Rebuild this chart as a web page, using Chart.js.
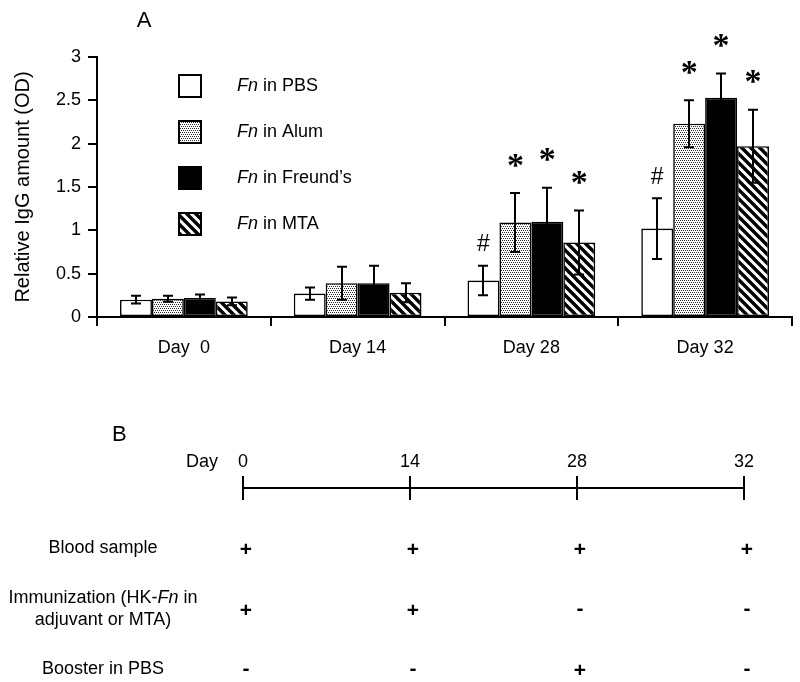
<!DOCTYPE html>
<html><head><meta charset="utf-8">
<script src="https://cdn.jsdelivr.net/npm/chart.js@4/dist/chart.umd.min.js"></script>
<style>
html,body{margin:0;padding:0;background:#fff;}
#wrap{position:relative;width:800px;height:682px;overflow:hidden;background:#fff;}
#a{position:absolute;left:0;top:0;width:800px;height:370px;}
#b{position:absolute;left:0;top:400px;width:800px;height:282px;}
</style></head><body>
<div id="wrap"><canvas id="a" width="800" height="370"></canvas><canvas id="b" width="800" height="282"></canvas></div>
<script>
// ---------- DATA ----------
const categories = ['Day  0', 'Day 14', 'Day 28', 'Day 32'];
const seriesLabels = ['*Fn* in PBS', '*Fn* in Alum', '*Fn* in Freund\u2019s', '*Fn* in MTA'];
const pbsValues    = [0.20, 0.27, 0.42, 1.02];
const pbsErrors    = [0.045, 0.07, 0.17, 0.35];
const alumValues   = [0.21, 0.39, 1.09, 2.23];
const alumErrors   = [0.035, 0.19, 0.34, 0.27];
const freundValues = [0.22, 0.39, 1.10, 2.53];
const freundErrors = [0.04, 0.20, 0.39, 0.28];
const mtaValues    = [0.18, 0.28, 0.86, 1.97];
const mtaErrors    = [0.045, 0.11, 0.37, 0.42];
const pbsMarks     = ['', '', '#', '#'];
const alumMarks    = ['', '', '*', '*'];
const freundMarks  = ['', '', '*', '*'];
const mtaMarks     = ['', '', '*', '*'];
const yTicksMax = 3, yTickStep = 0.5;

const timelineDays = ['0', '14', '28', '32'];
const rowLabels = [['Blood sample'], ['Immunization (HK-*Fn* in', 'adjuvant or MTA)'], ['Booster in PBS']];
const bloodSigns   = ['+', '+', '+', '+'];
const immunSigns   = ['+', '+', '-', '-'];
const boosterSigns = ['-', '-', '+', '-'];

// ---------- STYLE ----------
const FONT = '"Liberation Sans", Arial, Helvetica, sans-serif';
const SERIF = '"Liberation Serif", "Times New Roman", serif';
Chart.defaults.color = '#000';
Chart.defaults.font.family = FONT;

function stipplePattern() {
  const c = document.createElement('canvas'); c.width = 4; c.height = 4;
  const x = c.getContext('2d');
  x.fillStyle = '#fff'; x.fillRect(0, 0, 4, 4);
  x.fillStyle = '#2a2a2a';
  [[0,0],[2,0],[1,2],[3,2]].forEach(([a,b]) => x.fillRect(a, b, 1, 1));
  return x.createPattern(c, 'repeat');
}
function stripePattern() {
  const s = 9;
  const c = document.createElement('canvas'); c.width = s; c.height = s;
  const x = c.getContext('2d');
  x.fillStyle = '#fff'; x.fillRect(0, 0, s, s);
  x.strokeStyle = '#000'; x.lineWidth = 3.4;
  for (const k of [-s, 0, s]) { x.beginPath(); x.moveTo(-3, -3 + k); x.lineTo(s + 3, s + 3 + k); x.stroke(); }
  return x.createPattern(c, 'repeat');
}
const fills = ['#ffffff', stipplePattern(), '#000000', stripePattern()];
const valueSets = [pbsValues, alumValues, freundValues, mtaValues];
const errorSets = [pbsErrors, alumErrors, freundErrors, mtaErrors];
const markSets  = [pbsMarks, alumMarks, freundMarks, mtaMarks];

function parseRich(s) {
  const parts = []; s.split('*').forEach((t, i) => { if (t) parts.push({ t, it: i % 2 === 1 }); }); return parts;
}
function drawRich(ctx, s, x, y, size, align) {
  const parts = parseRich(s);
  let total = 0;
  parts.forEach(p => { ctx.font = (p.it ? 'italic ' : '') + size + 'px ' + FONT; p.w = ctx.measureText(p.t).width; total += p.w; });
  let cx = align === 'center' ? x - total / 2 : x;
  ctx.textAlign = 'left'; ctx.textBaseline = 'middle';
  parts.forEach(p => { ctx.font = (p.it ? 'italic ' : '') + size + 'px ' + FONT; ctx.fillText(p.t, cx, y); cx += p.w; });
}
function drawCentered(ctx, txt, x, cy) {
  ctx.textAlign = 'center'; ctx.textBaseline = 'alphabetic';
  const m = ctx.measureText(txt);
  const a = m.actualBoundingBoxAscent, d = m.actualBoundingBoxDescent;
  ctx.fillText(txt, x, cy + (a - d) / 2);
}

const errorBarPlugin = {
  id: 'errorBars',
  afterDatasetsDraw(chart) {
    const ctx = chart.ctx, ys = chart.scales.y;
    ctx.save();
    ctx.strokeStyle = '#000'; ctx.lineWidth = 2; ctx.fillStyle = '#000';
    chart.data.datasets.forEach((ds, i) => {
      const meta = chart.getDatasetMeta(i);
      meta.data.forEach((bar, j) => {
        const v = valueSets[i][j], e = errorSets[i][j];
        const yt = ys.getPixelForValue(v + e), yb = ys.getPixelForValue(v - e);
        const x = Math.round(bar.x);
        ctx.beginPath();
        ctx.moveTo(x, yt); ctx.lineTo(x, yb);
        ctx.moveTo(x - 5, yt); ctx.lineTo(x + 5, yt);
        ctx.moveTo(x - 5, yb); ctx.lineTo(x + 5, yb);
        ctx.stroke();
        const mk = markSets[i][j];
        if (mk === '*') { ctx.font = 'bold 34px ' + SERIF; drawCentered(ctx, '*', bar.x, yt - 33); }
        else if (mk === '#') { ctx.font = '23px ' + FONT; drawCentered(ctx, '#', bar.x, yt - 23); }
      });
    });
    ctx.restore();
  },
  afterDraw(chart) {
    const ctx = chart.ctx, ca = chart.chartArea;
    ctx.save();
    ctx.fillStyle = '#000';
    ctx.font = '22px ' + FONT;
    drawCentered(ctx, 'A', ca.left + 47, 19);
    const x0 = ca.left + 81, y0 = ca.top + 17;
    chart.data.datasets.forEach((ds, i) => {
      const y = y0 + i * 46;
      ctx.fillStyle = ds.backgroundColor; ctx.fillRect(x0, y, 24, 24);
      ctx.strokeStyle = '#000'; ctx.lineWidth = 2; ctx.strokeRect(x0 + 1, y + 1, 22, 22);
      ctx.fillStyle = '#000';
      drawRich(ctx, seriesLabels[i], x0 + 59, y + 12, 18, 'left');
    });
    ctx.restore();
  }
};

new Chart(document.getElementById('a'), {
  type: 'bar',
  data: {
    labels: categories,
    datasets: valueSets.map((vals, i) => ({
      label: seriesLabels[i].replace(/\*/g, ''),
      data: vals,
      backgroundColor: fills[i],
      borderColor: '#000',
      borderWidth: 1.6,
      borderSkipped: false,
      categoryPercentage: 0.735,
      barPercentage: 1.0
    }))
  },
  options: {
    responsive: false, animation: false,
    layout: { padding: { top: 57, right: 8, left: 0, bottom: 0 } },
    plugins: { legend: { display: false }, tooltip: { enabled: false } },
    scales: {
      x: {
        grid: { display: true, drawOnChartArea: false, drawTicks: true, tickLength: 9, offset: true, color: '#000', lineWidth: 2 },
        border: { display: true, color: '#000', width: 2 },
        ticks: { font: { size: 18, family: FONT }, color: '#000', padding: 11, maxRotation: 0, autoSkip: false },
        afterFit(s) { s.height = 53; }
      },
      y: {
        min: 0, max: yTicksMax,
        ticks: { stepSize: yTickStep, font: { size: 18, family: FONT }, color: '#000', padding: 7,
                 callback: (v) => String(Math.round(v * 10) / 10) },
        grid: { drawOnChartArea: false, drawTicks: true, tickLength: 9, color: '#000', lineWidth: 2 },
        border: { display: true, color: '#000', width: 2 },
        title: { display: true, text: 'Relative IgG amount (OD)', font: { size: 20, family: FONT }, color: '#000', padding: { top: 11, bottom: 0 } },
        afterFit(s) { s.width = 97; }
      }
    }
  },
  plugins: [errorBarPlugin]
});

// ---------- PANEL B ----------
const timelinePlugin = {
  id: 'timeline',
  afterDraw(chart) {
    const ctx = chart.ctx, xs = chart.scales.x, ca = chart.chartArea;
    const yLine = ca.top;
    ctx.save();
    ctx.fillStyle = '#000'; ctx.strokeStyle = '#000';
    ctx.font = '22px ' + FONT;
    ctx.textAlign = 'left'; ctx.textBaseline = 'alphabetic';
    { const m = ctx.measureText('B'); ctx.fillText('B', 112, yLine - 55 + m.actualBoundingBoxAscent / 2); }
    ctx.font = '18px ' + FONT; ctx.textAlign = 'right'; ctx.textBaseline = 'middle';
    ctx.fillText('Day', 218, yLine - 26);
    ctx.textAlign = 'center';
    timelineDays.forEach((d, i) => ctx.fillText(d, xs.getPixelForValue(i), yLine - 26));
    ctx.lineWidth = 2;
    ctx.beginPath();
    ctx.moveTo(xs.getPixelForValue(0), yLine); ctx.lineTo(xs.getPixelForValue(timelineDays.length - 1), yLine);
    timelineDays.forEach((d, i) => { const x = Math.round(xs.getPixelForValue(i)); ctx.moveTo(x, yLine - 12); ctx.lineTo(x, yLine + 12); });
    ctx.stroke();
    const rowY = [yLine + 60, yLine + 121, yLine + 181];
    const signSets = [bloodSigns, immunSigns, boosterSigns];
    rowLabels.forEach((lines, r) => {
      const n = lines.length;
      lines.forEach((ln, k) => drawRich(ctx, ln, 103, rowY[r] + (k - (n - 1) / 2) * 22, 18, 'center'));
      signSets[r].forEach((s, i) => {
        ctx.font = 'bold 21px ' + FONT;
        drawCentered(ctx, s, xs.getPixelForValue(i) + 3, rowY[r]);
      });
    });
    ctx.restore();
  }
};
new Chart(document.getElementById('b'), {
  type: 'line',
  data: { labels: timelineDays, datasets: [] },
  options: {
    responsive: false, animation: false,
    layout: { padding: { top: 88, left: 243, right: 56, bottom: 2 } },
    plugins: { legend: { display: false }, tooltip: { enabled: false } },
    scales: {
      x: { type: 'category', offset: false, display: false },
      y: { display: false }
    }
  },
  plugins: [timelinePlugin]
});
</script>
</body></html>
